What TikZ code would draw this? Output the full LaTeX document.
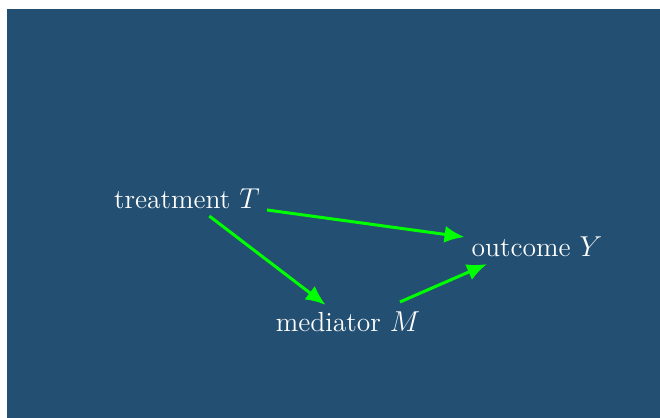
\documentclass[tikz,border=0pt]{standalone}
\usetikzlibrary{arrows.meta}
\definecolor{bgblue}{RGB}{35,79,114}
\definecolor{arrgreen}{RGB}{0,255,0}
\begin{document}
\begin{tikzpicture}[x=0.5pt,y=-0.5pt,
  lbl/.style={text=white,font=\fontsize{13.8}{16}\selectfont},
  conn/.style={draw=arrgreen,line width=1.5pt,-{Latex[length=10pt,width=8.5pt]}}]
\fill[white] (0,0) rectangle (660,418);
\fill[bgblue] (7,9) rectangle (660,418);
\useasboundingbox (0,0) rectangle (660,418);
\node[lbl] (T) at (187,199) {treatment $T$};
\node[lbl] (Y) at (537,247) {outcome $Y$};
\node[lbl] (M) at (348,322) {mediator $M$};
\draw[conn] (T) -- (Y);
\draw[conn] (T) -- (M);
\draw[conn] ([xshift=26pt,yshift=1.5pt]M.north) -- ([xshift=-25pt]Y.south);
\end{tikzpicture}
\end{document}
